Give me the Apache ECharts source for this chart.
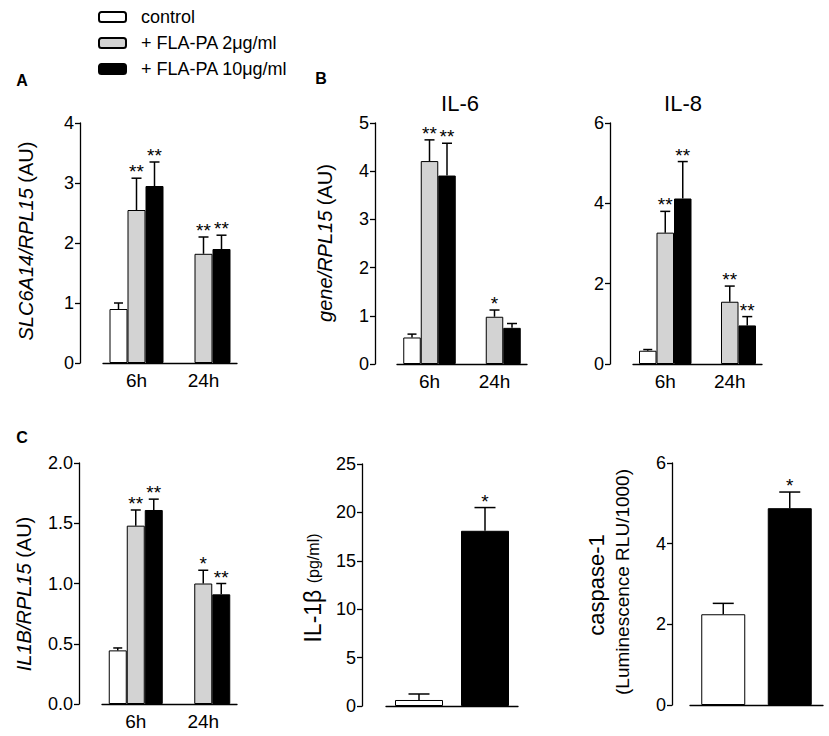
<!DOCTYPE html>
<html>
<head>
<meta charset="utf-8">
<script src="https://cdn.jsdelivr.net/npm/echarts@6/dist/echarts.min.js"></script>
<style>
  html, body { margin: 0; background: #fff; }
  #chart { width: 829px; height: 736px; }
</style>
</head>
<body>
<div id="chart"></div>
<script>
const timePoints = ['6h', '24h'];
const treatNames = ['control', '+ FLA-PA 2μg/ml', '+ FLA-PA 10μg/ml'];

// A: SLC6A14/RPL15
const slcControl = [0.90, null];
const slcLow = [2.55, 1.82];
const slcHigh = [2.95, 1.90];
const slcControlSem = [0.10, null];
const slcLowSem = [0.53, 0.28];
const slcHighSem = [0.40, 0.23];
const slcLowSig = ['**', '**'];
const slcHighSig = ['**', '**'];

// B: IL-6
const il6Control = [0.55, null];
const il6Low = [4.21, 0.98];
const il6High = [3.91, 0.75];
const il6ControlSem = [0.07, null];
const il6LowSem = [0.44, 0.14];
const il6HighSem = [0.67, 0.09];
const il6LowSig = ['**', '*'];
const il6HighSig = ['**', ''];

// B: IL-8
const il8Control = [0.33, null];
const il8Low = [3.27, 1.55];
const il8High = [4.12, 0.96];
const il8ControlSem = [0.03, null];
const il8LowSem = [0.53, 0.39];
const il8HighSem = [0.92, 0.22];
const il8LowSig = ['**', '**'];
const il8HighSig = ['**', '**'];

// C: IL1B/RPL15
const il1bControl = [0.445, null];
const il1bLow = [1.48, 1.00];
const il1bHigh = [1.61, 0.91];
const il1bControlSem = [0.02, null];
const il1bLowSem = [0.13, 0.11];
const il1bHighSem = [0.09, 0.09];
const il1bLowSig = ['**', '*'];
const il1bHighSig = ['**', '**'];

// C: IL-1β protein (control, 10μg/ml)
const proteinValues = [0.62, 18.1];
const proteinSem = [0.62, 2.4];
const proteinSig = ['', '*'];

// C: caspase-1 (control, 10μg/ml)
const caspaseValues = [2.25, 4.88];
const caspaseSem = [0.27, 0.40];
const caspaseSig = ['', '*'];

const FONT = "Arial, 'Liberation Sans', sans-serif";
const fills = ['#ffffff', '#d3d3d3', '#000000'];

const chart = echarts.init(document.getElementById('chart'), null, { renderer: 'svg' });

const grids = [
    { left: 103, top: 123, width: 134, height: 240 },
    { left: 397, top: 123, width: 130, height: 241 },
    { left: 633, top: 123, width: 129, height: 241 },
    { left: 102, top: 463, width: 135, height: 241 },
    { left: 386, top: 464, width: 132, height: 242 },
    { left: 690, top: 463, width: 133, height: 242 }
];

function xAxisFor(idx, showLabels) {
    return {
        type: 'category',
        gridIndex: idx,
        data: showLabels ? timePoints : ['control', 'FLA-PA'],
        axisLine: { lineStyle: { color: '#000', width: 1.3 } },
        axisTick: { show: false },
        axisLabel: { show: showLabels, fontSize: 19, color: '#000', fontFamily: FONT, margin: 8 }
    };
}

function yAxisFor(idx, max, interval, offset, digits) {
    return {
        type: 'value',
        gridIndex: idx,
        min: 0,
        max: max,
        interval: interval,
        offset: offset,
        splitLine: { show: false },
        axisLine: { show: true, lineStyle: { color: '#000', width: 1.3 } },
        axisTick: { show: true, length: 5, lineStyle: { color: '#000', width: 1.3 } },
        axisLabel: {
            fontSize: 18,
            color: '#000',
            fontFamily: FONT,
            margin: 6,
            formatter: v => v.toFixed(digits)
        }
    };
}

function barSeries(idx, treat, values, width) {
    return {
        type: 'bar',
        name: treatNames[treat],
        xAxisIndex: idx,
        yAxisIndex: idx,
        data: values,
        barWidth: width,
        barGap: '0%',
        silent: true,
        z: 2,
        itemStyle: { color: fills[treat], borderColor: '#000', borderWidth: 1 }
    };
}

// error bar (upper half only) plus significance stars
function errorSeries(idx, values, sems, sigs, offset, capW) {
    const data = [];
    values.forEach((v, i) => {
        if (v != null) data.push([i, v, sems[i]]);
    });
    return {
        type: 'custom',
        xAxisIndex: idx,
        yAxisIndex: idx,
        silent: true,
        z: 3,
        data: data,
        renderItem: function (params, api) {
            const i = api.value(0);
            const base = api.coord([i, api.value(1)]);
            const top = api.coord([i, api.value(1) + api.value(2)]);
            const x = base[0] + offset;
            const children = [
                { type: 'line', shape: { x1: x, y1: base[1], x2: x, y2: top[1] }, style: { stroke: '#000', lineWidth: 1.5 } },
                { type: 'line', shape: { x1: x - capW / 2, y1: top[1], x2: x + capW / 2, y2: top[1] }, style: { stroke: '#000', lineWidth: 1.5 } }
            ];
            const s = sigs ? sigs[i] : '';
            if (s) {
                children.push({
                    type: 'text', x: x, y: top[1] + 3,
                    style: { text: s, fill: '#000', fontSize: 19, fontFamily: FONT, align: 'center', verticalAlign: 'bottom' }
                });
            }
            return { type: 'group', children: children };
        }
    };
}

function threeBarPanel(idx, ctrl, low, high, ctrlSem, lowSem, highSem, lowSig, highSig, w) {
    return [
        barSeries(idx, 0, ctrl, w),
        barSeries(idx, 1, low, w),
        barSeries(idx, 2, high, w),
        errorSeries(idx, ctrl, ctrlSem, null, -w, 9),
        errorSeries(idx, low, lowSem, lowSig, 0, 10),
        errorSeries(idx, high, highSem, highSig, w, 10)
    ];
}

function twoBarPanel(idx, values, sems, sigs, w) {
    const ctrl = values.map((v, i) => i === 0 ? v : null);
    const high = values.map((v, i) => i === 1 ? v : null);
    const a = barSeries(idx, 0, ctrl, w);
    const b = barSeries(idx, 2, high, w);
    a.barGap = '-100%';
    b.barGap = '-100%';
    return [a, b, errorSeries(idx, values, sems, sigs, 0, 21)];
}

function label(text, x, y, size, extra) {
    return {
        type: 'text', x: x, y: y,
        style: Object.assign({ text: text, fill: '#000', fontSize: size, fontFamily: FONT, align: 'center', verticalAlign: 'middle' }, extra || {})
    };
}

function vLabel(text, x, y, size, rich) {
    const g = label(text, x, y, size, rich ? { rich: rich } : null);
    g.rotation = Math.PI / 2;
    return g;
}

const italic = { i: { fontStyle: 'italic', fontSize: 20, fontFamily: FONT, fill: '#000' } };

const option = {
    animation: false,
    backgroundColor: '#fff',
    legend: {
        data: treatNames,
        orient: 'vertical',
        left: 93,
        top: 3,
        itemWidth: 27,
        itemHeight: 10,
        itemGap: 8,
        selectedMode: false,
        textStyle: { fontSize: 18, color: '#000', fontFamily: FONT, padding: [0, 0, 0, 10] }
    },
    grid: grids,
    xAxis: [
        xAxisFor(0, true), xAxisFor(1, true), xAxisFor(2, true),
        xAxisFor(3, true), xAxisFor(4, false), xAxisFor(5, false)
    ],
    yAxis: [
        yAxisFor(0, 4, 1, 23, 0),
        yAxisFor(1, 5, 1, 22, 0),
        yAxisFor(2, 6, 2, 23, 0),
        yAxisFor(3, 2, 0.5, 23, 1),
        yAxisFor(4, 25, 5, 24, 0),
        yAxisFor(5, 6, 2, 18, 0)
    ],
    series: [].concat(
        threeBarPanel(0, slcControl, slcLow, slcHigh, slcControlSem, slcLowSem, slcHighSem, slcLowSig, slcHighSig, 18),
        threeBarPanel(1, il6Control, il6Low, il6High, il6ControlSem, il6LowSem, il6HighSem, il6LowSig, il6HighSig, 17.5),
        threeBarPanel(2, il8Control, il8Low, il8High, il8ControlSem, il8LowSem, il8HighSem, il8LowSig, il8HighSig, 17.5),
        threeBarPanel(3, il1bControl, il1bLow, il1bHigh, il1bControlSem, il1bLowSem, il1bHighSem, il1bLowSig, il1bHighSig, 18),
        twoBarPanel(4, proteinValues, proteinSem, proteinSig, 48),
        twoBarPanel(5, caspaseValues, caspaseSem, caspaseSig, 44)
    ),
    graphic: [
        label('A', 22, 80, 16, { fontWeight: 'bold' }),
        label('B', 321, 78, 16, { fontWeight: 'bold' }),
        label('C', 22, 437, 16, { fontWeight: 'bold' }),
        label('IL-6', 460, 103, 22),
        label('IL-8', 683, 103, 22),
        vLabel('{i|SLC6A14/RPL15} (AU)', 26, 241, 20, italic),
        vLabel('{i|gene/RPL15} (AU)', 325, 243, 20, italic),
        vLabel('{i|IL1B/RPL15} (AU)', 24, 594, 20, italic),
        vLabel('IL-1β {s|(pg/ml)}', 313, 588, 23, { s: { fontSize: 16, fontFamily: FONT, fill: '#000' } }),
        vLabel('caspase-1', 596, 585, 22),
        vLabel('(Luminescence RLU/1000)', 622, 582, 19)
    ]
};

chart.setOption(option);
</script>
</body>
</html>
